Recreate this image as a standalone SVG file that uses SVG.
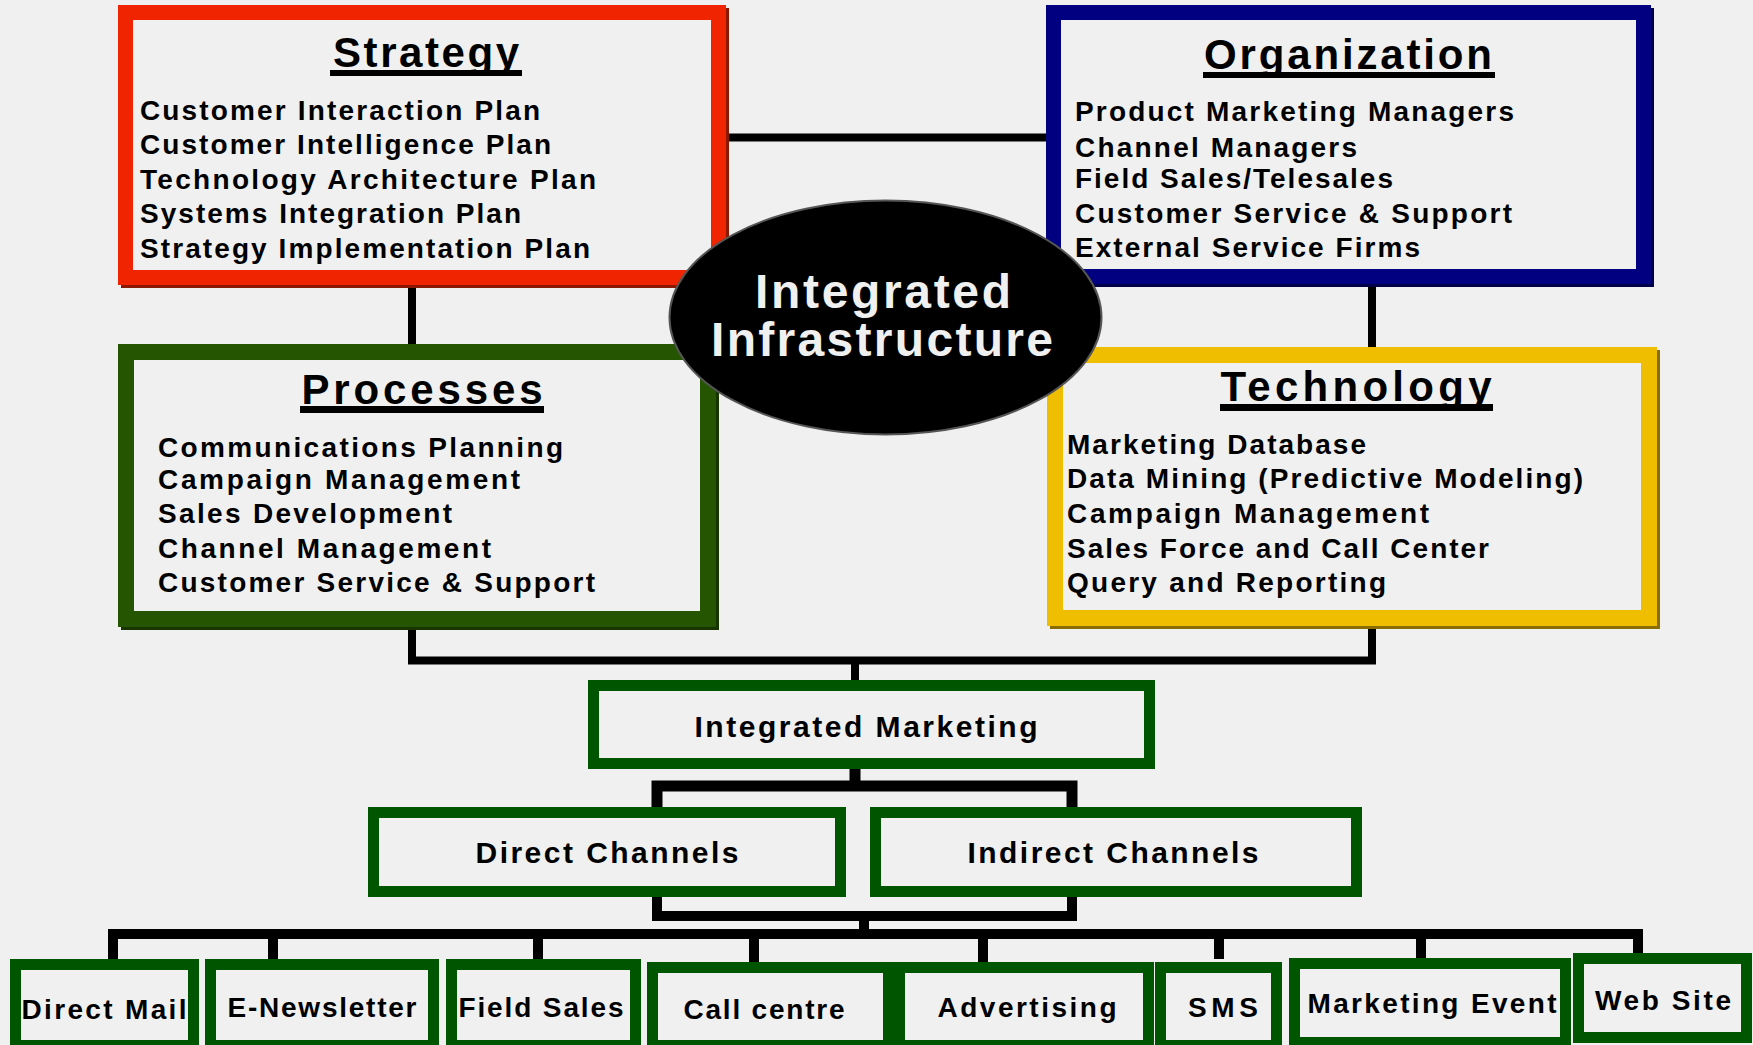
<svg xmlns="http://www.w3.org/2000/svg" width="1753" height="1045" viewBox="0 0 1753 1045">
<style>
text{font-family:"Liberation Sans",Arial,sans-serif;font-weight:bold;fill:#000}
.title{font-size:42px}
.item{font-size:28px}
.big{font-size:48px;fill:#f0f0f0}
.lbl{font-size:30px}
.sm{font-size:28px}
.conn{fill:none;stroke:#000;stroke-linejoin:miter;stroke-linecap:butt}
.gb{fill:#f0f0f0;stroke:#005500;stroke-width:11}
</style>
<rect x="0" y="0" width="1753" height="1045" fill="#f0f0f0"/>
<g id="connectors">
<path class="conn" stroke-width="8" d="M726 137.5H1046"/>
<path class="conn" stroke-width="8" d="M412 285V344M1372 284V347"/>
<path class="conn" stroke-width="8" d="M412 625V660.5H1372V625M855 660.5V680"/>
<path class="conn" stroke-width="11" d="M855 769V786M657 807V786H1072V807"/>
<path class="conn" stroke-width="10" d="M657 897V916H1072V897M864 916V934"/>
<path class="conn" stroke-width="10" d="M113 959V934H1638V953M273 934V959M538 934V959M754 934V962M983 934V962M1219 934V959M1421 934V958"/>
</g>
<g id="strategy">
<rect x="128.5" y="15.5" width="593" height="265" fill="none" stroke="#8b1800" stroke-width="15"/>
<rect x="125.5" y="12.5" width="593" height="265" fill="#f0f0f0" stroke="#f02400" stroke-width="15"/>
<text class="title" x="426" y="67" text-anchor="middle" textLength="186" lengthAdjust="spacing">Strategy</text>
<rect x="330" y="70" width="192" height="6"/>
<text class="item" x="140" y="120" textLength="400" lengthAdjust="spacing">Customer Interaction Plan</text>
<text class="item" x="140" y="154" textLength="411" lengthAdjust="spacing">Customer Intelligence Plan</text>
<text class="item" x="140" y="189" textLength="456" lengthAdjust="spacing">Technology Architecture Plan</text>
<text class="item" x="140" y="223" textLength="381" lengthAdjust="spacing">Systems Integration Plan</text>
<text class="item" x="140" y="258" textLength="450" lengthAdjust="spacing">Strategy Implementation Plan</text>
</g>
<g id="organization">
<rect x="1056.5" y="15.5" width="590" height="264" fill="none" stroke="#00004a" stroke-width="15"/>
<rect x="1053.5" y="12.5" width="590" height="264" fill="#f0f0f0" stroke="#000080" stroke-width="15"/>
<text class="title" x="1348" y="69" text-anchor="middle" textLength="288" lengthAdjust="spacing">Organization</text>
<rect x="1203" y="72" width="292" height="6"/>
<text class="item" x="1075" y="121" textLength="439" lengthAdjust="spacing">Product Marketing Managers</text>
<text class="item" x="1075" y="157" textLength="282" lengthAdjust="spacing">Channel Managers</text>
<text class="item" x="1075" y="188" textLength="318" lengthAdjust="spacing">Field Sales/Telesales</text>
<text class="item" x="1075" y="223" textLength="437" lengthAdjust="spacing">Customer Service &amp; Support</text>
<text class="item" x="1075" y="257" textLength="345" lengthAdjust="spacing">External Service Firms</text>
</g>
<g id="processes">
<rect x="129" y="355" width="582" height="267" fill="none" stroke="#163500" stroke-width="16"/>
<rect x="126" y="352" width="582" height="267" fill="#f0f0f0" stroke="#255500" stroke-width="16"/>
<text class="title" x="422" y="404" text-anchor="middle" textLength="241" lengthAdjust="spacing">Processes</text>
<rect x="300" y="406" width="244" height="7"/>
<text class="item" x="158" y="457" textLength="405" lengthAdjust="spacing">Communications Planning</text>
<text class="item" x="158" y="489" textLength="362" lengthAdjust="spacing">Campaign Management</text>
<text class="item" x="158" y="523" textLength="294" lengthAdjust="spacing">Sales Development</text>
<text class="item" x="158" y="558" textLength="333" lengthAdjust="spacing">Channel Management</text>
<text class="item" x="158" y="592" textLength="437" lengthAdjust="spacing">Customer Service &amp; Support</text>
</g>
<g id="technology">
<rect x="1058" y="358" width="594" height="263" fill="none" stroke="#8a6d00" stroke-width="16"/>
<rect x="1055" y="355" width="594" height="263" fill="#f0f0f0" stroke="#f0be00" stroke-width="16"/>
<text class="title" x="1356" y="401" text-anchor="middle" textLength="271" lengthAdjust="spacing">Technology</text>
<rect x="1220" y="404" width="273" height="7"/>
<text class="item" x="1067" y="454" textLength="299" lengthAdjust="spacing">Marketing Database</text>
<text class="item" x="1067" y="488" textLength="516" lengthAdjust="spacing">Data Mining (Predictive Modeling)</text>
<text class="item" x="1067" y="523" textLength="362" lengthAdjust="spacing">Campaign Management</text>
<text class="item" x="1067" y="558" textLength="422" lengthAdjust="spacing">Sales Force and Call Center</text>
<text class="item" x="1067" y="592" textLength="319" lengthAdjust="spacing">Query and Reporting</text>
</g>
<g id="integrated-infrastructure">
<ellipse cx="885.5" cy="317.5" rx="216" ry="117" fill="#000" stroke="#555" stroke-width="2"/>
<text class="big" x="883" y="308" text-anchor="middle" textLength="256" lengthAdjust="spacing">Integrated</text>
<text class="big" x="882" y="356" text-anchor="middle" textLength="342" lengthAdjust="spacing">Infrastructure</text>
</g>
<g id="integrated-marketing">
<rect class="gb" x="593.5" y="685.5" width="556" height="78"/>
<text class="lbl" x="866" y="737" text-anchor="middle" textLength="343" lengthAdjust="spacing">Integrated Marketing</text>
</g>
<g id="direct-channels">
<rect class="gb" x="373.5" y="812.5" width="467" height="79"/>
<text class="lbl" x="607" y="863" text-anchor="middle" textLength="263" lengthAdjust="spacing">Direct Channels</text>
</g>
<g id="indirect-channels">
<rect class="gb" x="875.5" y="812.5" width="481" height="79"/>
<text class="lbl" x="1113" y="863" text-anchor="middle" textLength="291" lengthAdjust="spacing">Indirect Channels</text>
</g>
<g id="direct-mail">
<rect class="gb" x="15.5" y="964.5" width="178" height="81"/>
<text class="sm" x="104" y="1019" text-anchor="middle" textLength="165" lengthAdjust="spacing">Direct Mail</text>
</g>
<g id="e-newsletter">
<rect class="gb" x="210.5" y="964.5" width="223" height="81"/>
<text class="sm" x="322" y="1017" text-anchor="middle" textLength="189" lengthAdjust="spacing">E-Newsletter</text>
</g>
<g id="field-sales">
<rect class="gb" x="451.5" y="964.5" width="184" height="81"/>
<text class="sm" x="541" y="1017" text-anchor="middle" textLength="165" lengthAdjust="spacing">Field Sales</text>
</g>
<g id="call-centre">
<rect class="gb" x="652.5" y="967.5" width="236" height="78"/>
<text class="sm" x="764" y="1019" text-anchor="middle" textLength="161" lengthAdjust="spacing">Call centre</text>
</g>
<g id="advertising">
<rect class="gb" x="899.5" y="967.5" width="249" height="78"/>
<text class="sm" x="1027" y="1017" text-anchor="middle" textLength="179" lengthAdjust="spacing">Advertising</text>
</g>
<g id="sms">
<rect class="gb" x="1160.5" y="967.5" width="116" height="78"/>
<text class="sm" x="1223" y="1017" text-anchor="middle" textLength="70" lengthAdjust="spacing">SMS</text>
</g>
<g id="marketing-event">
<rect class="gb" x="1294.5" y="963.5" width="271" height="79"/>
<text class="sm" x="1432" y="1013" text-anchor="middle" textLength="249" lengthAdjust="spacing">Marketing Event</text>
</g>
<g id="web-site">
<rect class="gb" x="1578.5" y="958.5" width="168" height="79"/>
<text class="sm" x="1663" y="1010" text-anchor="middle" textLength="136" lengthAdjust="spacing">Web Site</text>
</g>
</svg>
